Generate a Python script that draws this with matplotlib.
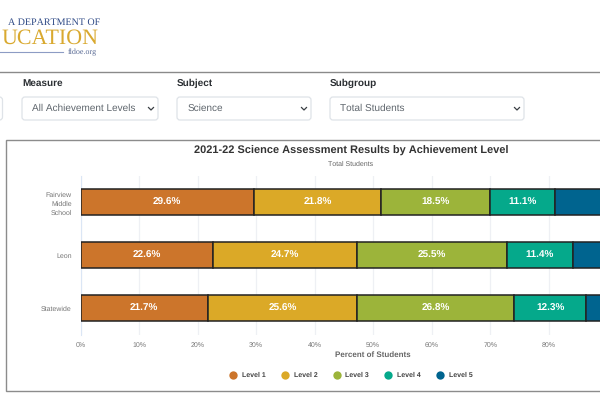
import matplotlib
matplotlib.use("Agg")
import matplotlib.pyplot as plt
from matplotlib.patches import FancyBboxPatch, Rectangle

schools = ["Fairview\nMiddle\nSchool", "Leon", "Statewide"]
levels = ["Level 1", "Level 2", "Level 3", "Level 4", "Level 5"]
level_1 = [29.6, 22.6, 21.7]
level_2 = [21.8, 24.7, 25.6]
level_3 = [18.5, 25.5, 26.8]
level_4 = [11.1, 11.4, 12.3]
level_5 = [19.0, 15.8, 13.6]
series = [level_1, level_2, level_3, level_4, level_5]
colors = ["#CC752B", "#DBA927", "#9CB43A", "#05A98B", "#00648F"]
ticks = [0, 10, 20, 30, 40, 50, 60, 70, 80]

plt.rcParams["font.family"] = ["Liberation Sans", "DejaVu Sans"]
plt.rcParams["text.hinting"] = "none"
plt.rcParams["text.hinting_factor"] = 1
W, H = 600, 400
fig = plt.figure(figsize=(6, 4), dpi=100, facecolor="white")

# page overlay in pixel coordinates
pg = fig.add_axes([0, 0, 1, 1], zorder=0)
pg.set_xlim(0, W); pg.set_ylim(H, 0); pg.axis("off")

pg.plot([0, 600], [72, 72], color="#8a8a8a", lw=1.0)
pg.add_patch(Rectangle((5.5, 140), 640, 251, fc="white", ec="#8c8c8c", lw=1.0))

navy = "#2f4a86"; gold = "#d9a92f"
pg.text(100, 22.5, "A DEPARTMENT OF", family="Liberation Serif", fontsize=7.4, color=navy,
        ha="right", va="center")
pg.text(99, 38.5, "UCATION", family="Liberation Serif", fontsize=15.8, color=gold,
        ha="right", va="center")
pg.plot([0, 63], [52, 52], color="#8d9cc4", lw=0.8)
pg.text(97, 52, "fldoe.org", family="Liberation Serif", fontsize=5.6, color="#5a6b95",
        ha="right", va="center")

def dropdown(x0, x1, label, value):
    pg.add_patch(FancyBboxPatch((x0, 97), x1 - x0, 23,
                                boxstyle="round,pad=0,rounding_size=3", mutation_aspect=1,
                                fc="white", ec="#dfe3e8", lw=0.9))
    pg.text(x0, 83.5, label, fontsize=7.3, fontweight="bold", color="#2b2f33",
            ha="left", va="center")
    pg.text(x0 + 10.5, 108.5, value, fontsize=7.4, color="#5f666d", ha="left", va="center")
    c = x1 - 7
    pg.plot([c - 2.5, c, c + 2.5], [107.5, 110, 107.5], color="#3a3f44", lw=0.9)

pg.add_patch(FancyBboxPatch((-10, 97), 12.5, 23, boxstyle="round,pad=0,rounding_size=3",
                            fc="white", ec="#dfe3e8", lw=0.9))
dropdown(22, 158, "Measure", "All Achievement Levels")
dropdown(177, 311, "Subject", "Science")
dropdown(330, 524, "Subgroup", "Total Students")

pg.text(351, 150.5, "2021-22 Science Assessment Results by Achievement Level", fontsize=8.15,
        fontweight="bold", color="#333333", ha="center", va="center")
pg.text(351, 164, "Total Students", fontsize=5.4, color="#666666", ha="center", va="center")

# plot area: 0-100 % spans 80.7 to 665.7 px, so it runs past the right edge
ax = fig.add_axes([80.7 / W, 1 - 334.5 / H, 585 / W, 159 / H], zorder=1)
ax.patch.set_alpha(0)
ax.set_xlim(0, 100)
ax.set_ylim(2.5, -0.5)
left = [0.0, 0.0, 0.0]
for vals, col in zip(series, colors):
    ax.barh(range(3), vals, left=left, height=0.5, color=col, edgecolor="#222222",
            linewidth=1.1, zorder=3)
    if vals is not level_5:  # the Level 5 labels lie past the visible edge
        for i, v in enumerate(vals):
            ax.text(left[i] + v / 2, i, f"{v:.1f}%", color="white", fontsize=6.9,
                    fontweight="bold", ha="center", va="center", zorder=4)
    left = [a + b for a, b in zip(left, vals)]

ax.set_xticks(ticks)
ax.set_xticklabels([f"{t}%" for t in ticks], fontsize=5.0, color="#777777")
ax.set_yticks(range(3))
ax.set_yticklabels(schools, fontsize=5.0, color="#777777", linespacing=1.55, ha="right",
                   multialignment="right")
ax.tick_params(axis="both", length=0)
ax.tick_params(axis="x", pad=5.2)
ax.tick_params(axis="y", pad=6.5)
ax.grid(axis="x", color="#eef0f4", lw=0.9, zorder=0)
for side in ["top", "right", "bottom"]:
    ax.spines[side].set_visible(False)
ax.spines["left"].set_color("#dbe6f5")
ax.set_xlabel("Percent of Students", fontsize=5.6, fontweight="bold", color="#666666")
ax.xaxis.set_label_coords(0.5, -20.5 / 159, transform=ax.transAxes)
ax.xaxis.label.set_va("center")

# legend
xs = [233, 285, 336.7, 388.3, 440]
for name, col, x in zip(levels, colors, xs):
    pg.scatter([x], [375], s=36, color=col, linewidths=0, zorder=3)
    pg.text(x + 8.7, 375.5, name, fontsize=5.4, fontweight="bold", color="#444444",
            ha="left", va="center")

fig.savefig("out.png", dpi=100)
